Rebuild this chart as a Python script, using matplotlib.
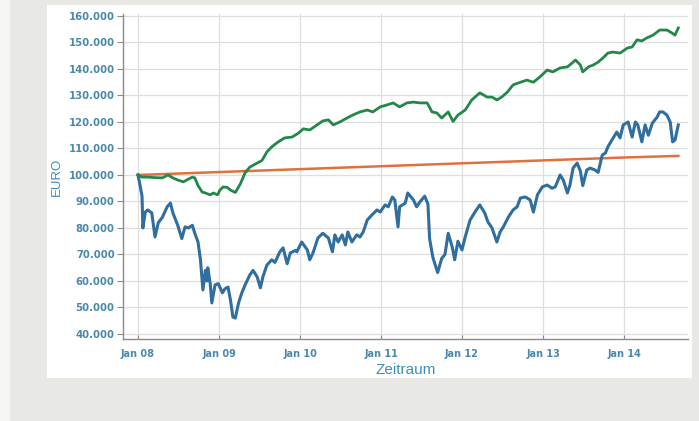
import numpy as np
import pandas as pd
import matplotlib
matplotlib.use('Agg')
import matplotlib.pyplot as plt
import matplotlib.dates as mdates
from matplotlib.patches import Rectangle
from matplotlib.ticker import FuncFormatter

# depot values in thousand euro, time as decimal years
blue_t = [2008.00, 2008.02, 2008.05, 2008.06, 2008.09, 2008.12, 2008.17, 2008.21, 2008.25, 2008.30,
          2008.36, 2008.40, 2008.43, 2008.49, 2008.54, 2008.58, 2008.62, 2008.67, 2008.70, 2008.74,
          2008.77, 2008.79, 2008.80, 2008.83, 2008.85, 2008.86, 2008.89, 2008.91, 2008.95, 2008.99,
          2009.04, 2009.07, 2009.11, 2009.14, 2009.17, 2009.20, 2009.24, 2009.28, 2009.32, 2009.38,
          2009.42, 2009.47, 2009.51, 2009.54, 2009.59, 2009.65, 2009.69, 2009.75, 2009.79, 2009.84,
          2009.88, 2009.94, 2009.96, 2010.02, 2010.09, 2010.12, 2010.16, 2010.22, 2010.28, 2010.35,
          2010.40, 2010.43, 2010.47, 2010.52, 2010.56, 2010.59, 2010.64, 2010.70, 2010.74, 2010.78,
          2010.83, 2010.89, 2010.95, 2010.99, 2011.05, 2011.09, 2011.14, 2011.17, 2011.21, 2011.23,
          2011.30, 2011.33, 2011.40, 2011.44, 2011.48, 2011.54, 2011.58, 2011.60, 2011.64, 2011.67,
          2011.70, 2011.75, 2011.79, 2011.83, 2011.88, 2011.91, 2011.95, 2012.00, 2012.04, 2012.10,
          2012.16, 2012.22, 2012.28, 2012.32, 2012.37, 2012.43, 2012.47, 2012.51, 2012.57, 2012.63,
          2012.68, 2012.72, 2012.78, 2012.84, 2012.88, 2012.93, 2012.99, 2013.05, 2013.11, 2013.15,
          2013.21, 2013.25, 2013.30, 2013.33, 2013.37, 2013.42, 2013.46, 2013.49, 2013.54, 2013.58,
          2013.64, 2013.68, 2013.73, 2013.77, 2013.80, 2013.85, 2013.91, 2013.95, 2013.99, 2014.05,
          2014.10, 2014.14, 2014.17, 2014.22, 2014.26, 2014.30, 2014.35, 2014.41, 2014.44, 2014.48,
          2014.53, 2014.57, 2014.60, 2014.63, 2014.67]
blue_v = [100.0, 97.0, 92.0, 80.0, 86.0, 86.8, 85.7, 76.6, 82.0, 84.0,
          88.0, 89.4, 85.7, 81.0, 76.0, 80.4, 80.0, 81.0, 78.0, 74.7,
          68.0, 60.4, 56.6, 64.0, 60.0, 65.0, 59.0, 51.7, 58.5, 59.0,
          55.5, 57.0, 57.7, 52.8, 46.4, 46.0, 51.7, 55.5, 58.5, 62.3,
          64.0, 61.5, 57.4, 61.5, 66.0, 68.0, 67.0, 71.0, 72.5, 66.5,
          70.6, 71.5, 71.0, 74.7, 71.7, 68.0, 70.6, 76.2, 78.0, 76.2,
          71.0, 77.4, 74.7, 77.4, 73.6, 78.5, 74.7, 77.4, 76.6, 78.5,
          83.0, 85.0, 86.8, 86.0, 88.7, 88.0, 91.7, 90.6, 80.4, 88.0,
          89.4, 93.2, 90.6, 88.0, 89.8, 92.0, 89.0, 76.0, 69.0, 66.0,
          63.2, 68.5, 70.0, 78.0, 72.8, 68.0, 75.0, 71.7, 76.6, 83.0,
          86.0, 88.7, 85.7, 82.3, 80.0, 74.7, 78.5, 80.4, 84.0, 86.8,
          88.0, 91.3, 91.7, 90.6, 86.0, 92.5, 95.5, 96.2, 95.0, 95.5,
          100.0, 98.0, 93.2, 96.0, 102.6, 104.5, 101.5, 96.0, 101.9, 102.6,
          101.9, 101.0, 107.5, 108.3, 110.6, 113.2, 116.2, 114.0, 118.9, 120.0,
          114.3, 120.0, 118.9, 112.5, 118.9, 115.0, 119.6, 121.9, 123.8, 123.8,
          122.6, 120.0, 112.5, 113.2, 118.9]

green_t = [2008.00, 2008.05, 2008.12, 2008.21, 2008.30, 2008.37, 2008.43, 2008.49, 2008.56, 2008.60,
           2008.67, 2008.70, 2008.74, 2008.79, 2008.83, 2008.89, 2008.93, 2008.98, 2009.01, 2009.05,
           2009.10, 2009.14, 2009.20, 2009.26, 2009.32, 2009.38, 2009.47, 2009.53, 2009.59, 2009.65,
           2009.73, 2009.81, 2009.90, 2009.98, 2010.04, 2010.12, 2010.21, 2010.28, 2010.35, 2010.41,
           2010.49, 2010.58, 2010.65, 2010.74, 2010.83, 2010.90, 2010.99, 2011.07, 2011.15, 2011.23,
           2011.32, 2011.40, 2011.48, 2011.57, 2011.63, 2011.69, 2011.75, 2011.83, 2011.89, 2011.95,
           2012.04, 2012.12, 2012.22, 2012.31, 2012.37, 2012.43, 2012.49, 2012.56, 2012.63, 2012.72,
           2012.80, 2012.88, 2012.96, 2013.05, 2013.12, 2013.21, 2013.30, 2013.36, 2013.40, 2013.46,
           2013.49, 2013.56, 2013.62, 2013.68, 2013.74, 2013.80, 2013.86, 2013.95, 2014.04, 2014.10,
           2014.16, 2014.22, 2014.28, 2014.36, 2014.44, 2014.53, 2014.59, 2014.63, 2014.67]
green_v = [100.0, 99.2, 99.2, 99.0, 98.9, 100.0, 98.9, 98.1, 97.4, 98.1,
           99.2, 98.9, 96.0, 93.6, 93.2, 92.5, 93.2, 92.5, 94.3, 95.5,
           95.3, 94.3, 93.4, 96.5, 100.8, 103.0, 104.5, 105.5, 108.7, 110.6,
           112.5, 114.0, 114.3, 115.8, 117.4, 117.0, 118.9, 120.4, 120.8, 118.9,
           120.0, 121.5, 122.6, 123.8, 124.5, 123.8, 125.7, 126.4, 127.2, 125.7,
           127.2, 127.5, 127.2, 127.2, 123.8, 123.4, 121.5, 123.8, 120.2, 122.6,
           124.5, 128.3, 131.0, 129.4, 129.4, 128.3, 129.4, 131.3, 134.0, 135.0,
           135.8, 135.0, 137.0, 139.6, 138.9, 140.4, 140.8, 142.3, 143.4, 141.5,
           138.9, 140.8, 141.5, 142.6, 144.2, 146.0, 146.4, 146.0, 147.9, 148.3,
           151.0, 150.6, 151.7, 152.8, 154.7, 154.7, 153.6, 152.8, 155.5]

orange_t = [2008.00, 2009.00, 2010.00, 2011.00, 2012.00, 2013.00, 2014.00, 2014.67]
orange_v = [100.0, 101.1, 102.2, 103.3, 104.4, 105.5, 106.6, 107.2]

y_ticks = [40, 50, 60, 70, 80, 90, 100, 110, 120, 130, 140, 150, 160]
x_tick_years = [2008, 2009, 2010, 2011, 2012, 2013, 2014]


def to_dates(years):
    out = []
    for t in years:
        y = int(np.floor(t))
        start = pd.Timestamp(year=y, month=1, day=1)
        n_days = (pd.Timestamp(year=y + 1, month=1, day=1) - start).days
        out.append(start + pd.Timedelta(days=(t - y) * n_days))
    return pd.DatetimeIndex(out)


txt_col = '#4a88ad'
fig = plt.figure(figsize=(6.99, 4.21), dpi=100)
fig.patch.set_facecolor('#e8e8e5')
fig.add_artist(Rectangle((0, 0), 10 / 699, 1, transform=fig.transFigure,
                         facecolor='#f6f6f5', edgecolor='none', zorder=-2))
fig.add_artist(Rectangle((47 / 699, 1 - 378 / 421), 645 / 699, 373 / 421, transform=fig.transFigure,
                         facecolor='white', edgecolor='none', zorder=-1))

ax = fig.add_axes([123 / 699, 1 - 339 / 421, 565 / 699, 325 / 421])
ax.set_facecolor('white')

ax.plot(to_dates(orange_t), orange_v, color='#e0703c', lw=1.8, zorder=3)
ax.plot(to_dates(blue_t), blue_v, color='#2f6e9e', lw=2.2, zorder=4)
ax.plot(to_dates(green_t), green_v, color='#23874a', lw=2.0, zorder=5)

ax.set_ylim(38.1, 160.75)
ax.set_yticks(y_ticks)
ax.yaxis.set_major_formatter(FuncFormatter(lambda v, p: f'{int(v)}.000'))
ax.set_xlim(to_dates([2007.815])[0], to_dates([2014.79])[0])
ax.set_xticks(to_dates(x_tick_years))
ax.xaxis.set_major_formatter(mdates.DateFormatter('%b %y'))

ax.grid(True, color='#dedede', lw=0.9)
ax.set_axisbelow(True)
for s in ['top', 'right']:
    ax.spines[s].set_visible(False)
for s in ['left', 'bottom']:
    ax.spines[s].set_color('#8a8a8a')
    ax.spines[s].set_linewidth(1.0)
ax.tick_params(axis='y', direction='out', length=4, color='#8a8a8a', pad=2,
               labelsize=7.3, labelcolor=txt_col)
ax.tick_params(axis='x', direction='in', length=3, color='#8a8a8a', pad=7,
               labelsize=7.0, labelcolor=txt_col)
for lab in ax.get_xticklabels() + ax.get_yticklabels():
    lab.set_fontweight('bold')

ax.set_ylabel('EURO', fontsize=9.5, color='#3d8fb5', family='Liberation Sans', labelpad=4)
ax.set_xlabel('Zeitraum', fontsize=11, color='#3d8fb5', family='Liberation Sans', labelpad=3)

fig.savefig('out.png', dpi=100, facecolor=fig.get_facecolor())
